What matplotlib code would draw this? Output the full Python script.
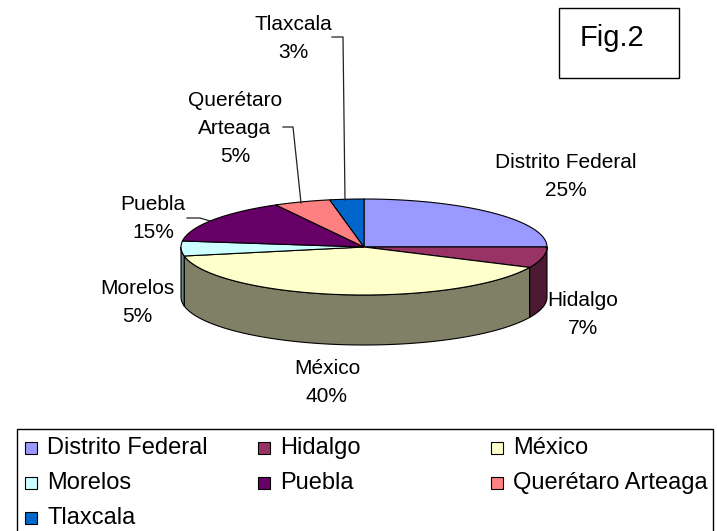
import numpy as np
import matplotlib
matplotlib.use("Agg")
import matplotlib.pyplot as plt
from matplotlib.patches import Polygon, Rectangle

# datos
estados = ["Distrito Federal", "Hidalgo", "México", "Morelos", "Puebla",
           "Querétaro Arteaga", "Tlaxcala"]
etiquetas = ["Distrito Federal", "Hidalgo", "México", "Morelos", "Puebla",
             "Querétaro\nArteaga", "Tlaxcala"]
porcentajes = [25, 7, 40, 5, 15, 5, 3]
colores = ["#9999FF", "#993366", "#FFFFCC", "#CCFFFF", "#660066",
           "#FF8080", "#0066CC"]

# posicion de las etiquetas (pixeles)
pos_etiq = [(566, 177), (583, 315), (327, 383), (137, 302), (153, 218),
            (235, 128), (293, 38)]

fig = plt.figure(figsize=(7.17, 5.31), dpi=100)
ax = fig.add_axes([0, 0, 1, 1])
ax.set_xlim(0, 717)
ax.set_ylim(531, 0)
ax.axis("off")

cx, cy, rx, ry, prof = 364, 247, 183, 48, 50


def oscurecer(c):
    r, g, b = matplotlib.colors.to_rgb(c)
    return (r * 0.5, g * 0.5, b * 0.5)


fr = np.array(porcentajes) / sum(porcentajes)
fin = 90 - 360 * np.cumsum(fr)
ini = np.concatenate([[90], fin[:-1]])

# paredes laterales (solo la mitad frontal)
for a0, a1, c in zip(ini, fin, colores):
    hi, lo = min(a0, 0), max(a1, -180)
    if hi <= lo:
        continue
    t = np.radians(np.linspace(hi, lo, 80))
    xs = cx + rx * np.cos(t)
    ys = cy - ry * np.sin(t)
    pts = np.vstack([np.column_stack([xs, ys]),
                     np.column_stack([xs[::-1], ys[::-1] + prof])])
    ax.add_patch(Polygon(pts, closed=True, fc=oscurecer(c), ec="black", lw=0.8))

# caras superiores
for a0, a1, c in zip(ini, fin, colores):
    t = np.radians(np.linspace(a0, a1, 120))
    pts = np.vstack([[cx, cy],
                     np.column_stack([cx + rx * np.cos(t), cy - ry * np.sin(t)])])
    ax.add_patch(Polygon(pts, closed=True, fc=c, ec="black", lw=0.8))

fuente = ["Liberation Sans Narrow", "Liberation Sans", "DejaVu Sans"]
for et, p, (x, y) in zip(etiquetas, porcentajes, pos_etiq):
    ax.text(x, y, f"{et}\n{p}%", ha="center", va="center", fontsize=15,
            family=fuente, linespacing=1.6)

# lineas guia
ax.plot([332, 343, 345], [37, 37, 200], color="#222222", lw=0.9)
ax.plot([283, 293, 301], [127, 127, 203], color="#222222", lw=0.9)
ax.plot([187, 200, 210], [218, 218, 221], color="#222222", lw=0.9)

# recuadro Fig.2
ax.add_patch(Rectangle((559, 8), 120, 70, fc="white", ec="black", lw=1))
ax.text(612, 38, "Fig.2", ha="center", va="center", fontsize=21,
        family=["Liberation Sans", "DejaVu Sans"])

# leyenda
ax.add_patch(Rectangle((17, 429), 696, 130, fc="white", ec="black", lw=1,
                       clip_on=True))
for i, (nom, c) in enumerate(zip(estados, colores)):
    fila, col = divmod(i, 3)
    x = 25 + col * 233
    y = 448 + fila * 35
    ax.add_patch(Rectangle((x, y - 6), 12, 12, fc=c, ec="black", lw=0.8))
    ax.text(x + 22, y, nom, ha="left", va="center", fontsize=17,
            family=["Liberation Sans", "DejaVu Sans"])

fig.savefig("out.png", dpi=100)
